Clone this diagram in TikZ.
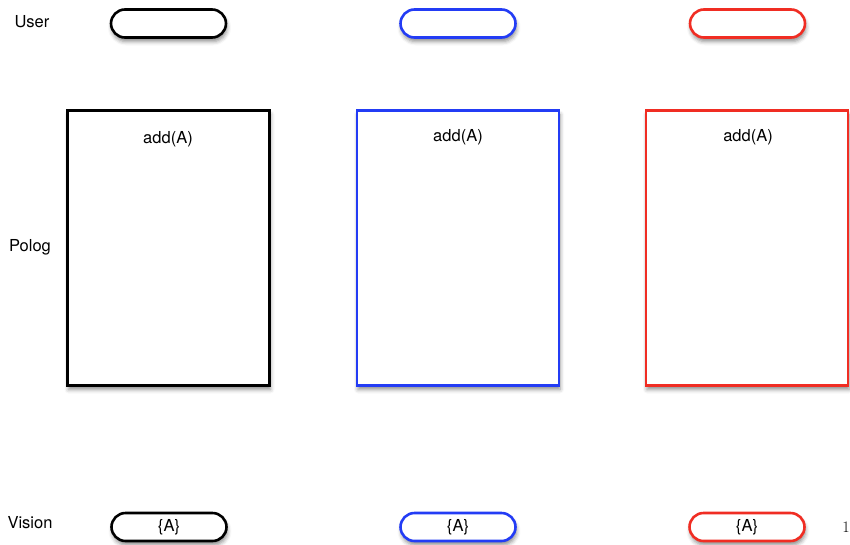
\documentclass[tikz,border=0pt]{standalone}
\usepackage{fontspec}
\newfontfamily\hel{TeX Gyre Heros}
\usetikzlibrary{shadows.blur}
\definecolor{cblue}{RGB}{35,60,245}
\definecolor{cred}{RGB}{240,45,35}
\tikzset{
  pill/.style={draw=#1, line width=2.6pt, rounded corners=14pt, fill=white, minimum width=115pt, minimum height=28pt, inner sep=0pt, font=\hel\fontsize{16.5}{18}\selectfont, blur shadow={shadow xshift=1pt, shadow yshift=-4pt, shadow blur radius=4pt, shadow opacity=45}},
  bigbox/.style={draw=#1, line width=2.6pt, fill=white, minimum width=202pt, minimum height=275pt, inner sep=0pt, blur shadow={shadow xshift=1pt, shadow yshift=-4pt, shadow blur radius=4pt, shadow opacity=45}},
  lbl/.style={font=\hel\fontsize{16.5}{18}\selectfont, inner sep=0pt},
}
\begin{document}
\begin{tikzpicture}[x=1pt,y=-1pt]
\useasboundingbox (0,0) rectangle (850,544);
% row labels
\node[lbl] (luser) at (32,22) {User};
\node[lbl] (lpolog) at (30,247) {Polog};
\node[lbl] (lvision) at (30,523) {Vision};
% user pills
\node[pill=black] (u1) at (168.5,23.5) {};
\node[pill=cblue] (u2) at (458,23.5) {};
\node[pill=cred] (u3) at (747.5,23.5) {};
% polog boxes
\node[bigbox=black] (p1) at (168.5,248) {};
\node[bigbox=cblue] (p2) at (458,248) {};
\node[bigbox=cred] (p3) at (747,248) {};
\node[lbl] (a1) at (168,139) {add(A)};
\node[lbl] (a2) at (458,137) {add(A)};
\node[lbl] (a3) at (748,137) {add(A)};
% vision pills
\node[pill=black] (v1) at (169,527) {\{A\}};
\node[pill=cblue] (v2) at (458,527) {\{A\}};
\node[pill=cred] (v3) at (747,527) {\{A\}};
\node[inner sep=0pt, font=\fontsize{16}{18}\selectfont] (num) at (846,527) {1};
\end{tikzpicture}
\end{document}
